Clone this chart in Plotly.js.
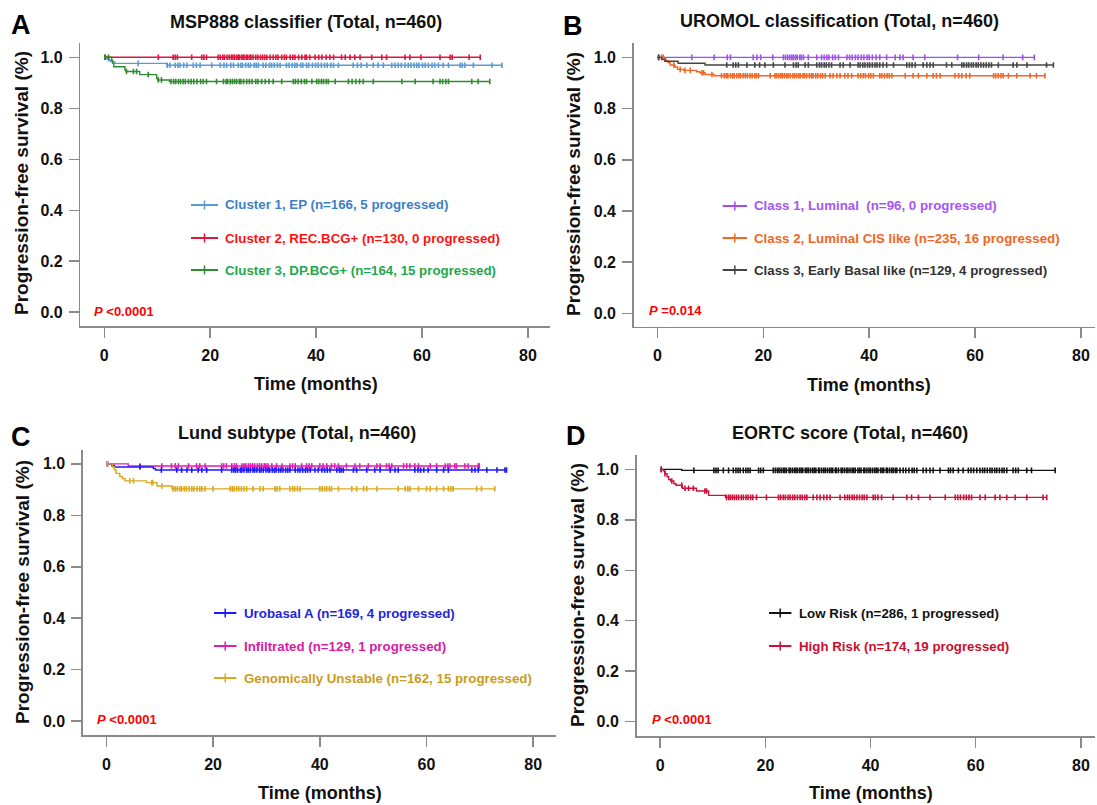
<!DOCTYPE html>
<html><head><meta charset="utf-8">
<script src="https://cdn.plot.ly/plotly-3.0.1.min.js"></script>
<style>html,body{margin:0;padding:0;background:#fff}</style>
</head><body><div id="chart" style="width:1097px;height:805px"></div>
<script>
// ---------- Panel A: MSP888 classifier ----------
const mspEP_evT = [0.5, 0.9, 1.2, 2.0, 11.8];
const mspEP_evS = [0.994, 0.988, 0.982, 0.976, 0.969];
const mspEP_cen = [0.8, 6.4, 11.9, 12.4, 13.4, 13.9, 14.3, 15.0, 15.6, 16.8, 17.4, 18.1, 20.3, 21.9, 22.6, 23.1, 23.9, 24.4, 25.3, 25.8, 26.1, 26.7, 27.2, 27.6, 28.3, 28.7, 29.1, 30.0, 30.5, 31.2, 31.6, 32.1, 32.7, 33.2, 34.4, 34.9, 35.5, 36.0, 36.4, 37.1, 37.5, 38.2, 38.6, 39.3, 39.9, 40.4, 41.0, 41.6, 42.1, 42.8, 43.3, 44.2, 47.0, 47.8, 48.5, 49.6, 50.8, 51.7, 52.7, 54.3, 54.9, 55.5, 56.1, 56.8, 57.4, 57.9, 58.5, 59.0, 59.4, 60.1, 60.6, 61.2, 61.9, 62.4, 63.1, 64.0, 65.0, 67.2, 67.6, 68.1, 69.7, 73.2, 75.1];
const mspREC_evT = [];
const mspREC_evS = [];
const mspREC_cen = [0.2, 10.2, 13.0, 13.4, 13.8, 16.5, 18.4, 18.8, 19.3, 21.5, 21.9, 22.4, 22.7, 23.2, 23.6, 24.0, 24.3, 24.6, 25.0, 25.3, 25.5, 25.9, 26.2, 26.4, 26.8, 27.1, 27.5, 27.7, 28.1, 28.6, 29.0, 29.5, 29.9, 30.3, 30.7, 31.3, 31.9, 32.4, 32.8, 33.5, 34.0, 34.4, 35.1, 35.6, 36.0, 36.7, 37.3, 37.9, 38.2, 38.8, 39.8, 40.5, 41.1, 41.9, 42.6, 43.3, 44.8, 45.5, 46.4, 47.3, 48.3, 50.5, 52.4, 53.3, 56.8, 57.7, 59.8, 63.4, 65.3, 65.7, 68.9, 71.0];
const mspDP_evT = [1.4, 1.6, 1.8, 3.9, 4.1, 6.7, 9.9, 10.1, 12.3];
const mspDP_evS = [0.988, 0.976, 0.963, 0.951, 0.944, 0.932, 0.917, 0.911, 0.905];
const mspDP_cen = [0.1, 0.8, 4.2, 5.5, 6.1, 8.3, 10.2, 10.8, 12.6, 13.1, 13.5, 14.0, 14.4, 14.9, 15.3, 15.9, 16.4, 16.9, 17.5, 18.2, 18.7, 19.3, 21.2, 22.5, 23.0, 23.3, 23.8, 24.2, 24.6, 25.0, 25.5, 25.8, 26.3, 26.9, 27.4, 27.9, 28.6, 29.0, 29.7, 30.4, 31.1, 31.9, 33.5, 35.7, 36.1, 36.6, 37.2, 37.8, 38.2, 39.2, 40.1, 40.5, 41.0, 41.4, 41.9, 42.3, 43.6, 46.1, 46.8, 47.5, 48.2, 48.9, 50.8, 56.2, 58.7, 62.1, 63.4, 63.9, 64.5, 65.0, 69.4, 70.6, 72.8];

// ---------- Panel B: UROMOL classification ----------
const uroLum_evT = [];
const uroLum_evS = [];
const uroLum_cen = [0.3, 6.5, 10.7, 13.2, 13.8, 18.1, 18.8, 19.5, 21.8, 23.8, 24.2, 24.6, 25.0, 25.4, 25.7, 26.1, 26.4, 26.9, 27.2, 27.6, 28.5, 30.1, 31.0, 31.5, 32.0, 32.4, 33.1, 33.6, 34.2, 35.8, 36.3, 36.8, 37.4, 37.9, 38.5, 39.0, 39.6, 40.0, 40.6, 41.3, 42.0, 43.3, 44.9, 45.8, 46.4, 48.3, 50.5, 56.7, 60.7, 65.3, 69.0, 71.2];
const uroCIS_evT = [1.3, 1.6, 2.0, 2.4, 3.3, 3.8, 4.9, 7.4, 8.0, 9.0, 10.7];
const uroCIS_evS = [0.996, 0.987, 0.979, 0.970, 0.962, 0.953, 0.949, 0.944, 0.940, 0.933, 0.928];
const uroCIS_cen = [0.8, 1.1, 3.1, 4.3, 5.2, 6.2, 8.4, 8.7, 10.3, 12.1, 12.6, 13.0, 13.3, 13.8, 14.2, 14.5, 15.0, 15.4, 15.7, 16.2, 16.6, 17.0, 17.5, 17.9, 18.4, 18.7, 19.1, 21.3, 22.2, 22.5, 22.9, 23.3, 23.6, 24.0, 24.4, 24.7, 25.1, 25.6, 25.9, 26.3, 26.7, 27.0, 27.5, 27.8, 28.2, 28.7, 29.1, 29.4, 29.9, 30.3, 30.8, 31.2, 31.7, 32.6, 33.2, 33.9, 34.5, 35.4, 36.0, 36.7, 37.9, 38.4, 38.9, 39.3, 39.9, 40.3, 40.8, 42.0, 42.4, 42.9, 43.4, 43.8, 44.3, 46.8, 48.3, 49.3, 50.9, 52.1, 52.7, 53.4, 56.2, 56.9, 57.5, 58.3, 59.0, 63.5, 63.9, 64.4, 64.9, 65.3, 66.3, 67.9, 70.4, 71.6, 73.2];
const uroEB_evT = [0.8, 1.4, 3.9, 9.0];
const uroEB_evS = [0.992, 0.985, 0.977, 0.970];
const uroEB_cen = [0.2, 13.1, 14.3, 14.8, 15.3, 16.9, 18.4, 19.3, 20.3, 21.9, 24.1, 25.7, 26.2, 26.6, 27.9, 28.5, 30.1, 30.6, 31.0, 31.5, 31.9, 32.4, 32.9, 34.5, 35.1, 36.4, 37.9, 38.3, 38.8, 39.2, 39.7, 40.1, 40.6, 41.1, 41.5, 42.0, 42.6, 43.3, 44.6, 47.1, 47.6, 48.1, 48.7, 50.2, 50.9, 51.5, 52.1, 54.6, 55.6, 57.5, 57.9, 58.4, 58.8, 59.3, 59.7, 60.2, 60.6, 61.1, 61.6, 62.1, 62.6, 63.1, 64.4, 67.2, 67.9, 69.8, 73.5, 74.8];

// ---------- Panel C: Lund subtype ----------
const lundUro_evT = [1.0, 1.5, 8.8, 9.2];
const lundUro_evS = [0.994, 0.988, 0.982, 0.976];
const lundUro_cen = [0.2, 6.3, 10.3, 13.2, 14.1, 15.1, 16.0, 17.2, 17.9, 18.8, 21.6, 23.5, 23.9, 24.2, 24.6, 25.1, 25.4, 25.8, 26.3, 26.6, 27.0, 27.5, 27.8, 28.2, 28.7, 29.0, 29.4, 29.9, 30.3, 30.6, 31.1, 31.5, 31.8, 32.3, 32.7, 33.1, 33.6, 34.0, 34.4, 35.4, 35.9, 36.3, 36.8, 37.3, 37.7, 38.2, 39.1, 39.7, 40.4, 40.9, 41.4, 41.9, 43.2, 43.7, 44.0, 44.4, 46.3, 46.9, 48.8, 50.3, 51.3, 53.2, 54.1, 54.7, 57.8, 58.4, 58.9, 59.5, 60.3, 61.9, 63.2, 64.1, 68.5, 69.1, 69.7, 71.3, 73.2, 74.7, 75.0];
const lundInf_evT = [4.1];
const lundInf_evS = [0.992];
const lundInf_cen = [0.2, 6.3, 10.4, 12.2, 12.9, 13.5, 15.4, 16.9, 17.5, 18.5, 21.6, 22.0, 22.5, 23.5, 24.0, 24.4, 25.4, 25.8, 26.1, 26.6, 27.0, 27.4, 27.8, 28.3, 28.7, 29.1, 29.6, 29.9, 30.3, 31.0, 31.9, 32.9, 34.4, 34.9, 35.4, 36.6, 37.5, 38.0, 38.5, 40.0, 40.6, 41.3, 42.2, 42.8, 43.5, 45.0, 46.6, 47.5, 49.1, 50.7, 51.3, 52.5, 53.0, 53.5, 55.7, 56.3, 56.9, 57.8, 58.5, 60.7, 61.9, 63.5, 64.0, 64.4, 65.3, 65.6, 67.2, 67.8, 69.7, 69.9];
const lundGU_evT = [1.1, 1.5, 1.8, 2.5, 3.0, 3.5, 7.5, 9.5, 12.3];
const lundGU_evS = [0.988, 0.976, 0.963, 0.951, 0.943, 0.934, 0.927, 0.914, 0.903];
const lundGU_cen = [0.2, 4.4, 5.1, 8.5, 8.7, 10.4, 12.5, 12.9, 13.3, 13.8, 14.1, 14.6, 15.0, 15.5, 16.0, 16.4, 17.0, 17.5, 17.9, 18.5, 20.0, 23.2, 23.6, 23.9, 24.4, 24.8, 25.3, 25.8, 26.3, 27.5, 28.8, 29.4, 31.6, 32.0, 32.5, 34.4, 34.9, 35.3, 35.8, 36.3, 40.0, 40.4, 40.9, 41.3, 41.8, 42.2, 43.5, 46.0, 46.9, 48.2, 48.8, 50.7, 54.7, 56.0, 56.5, 56.9, 58.5, 60.0, 60.7, 61.9, 63.2, 64.1, 64.6, 65.0, 69.4, 70.3, 72.8];

// ---------- Panel D: EORTC score ----------
const eoLow_evT = [4.1];
const eoLow_evS = [0.996];
const eoLow_cen = [0.2, 6.4, 10.2, 10.6, 11.0, 12.0, 13.0, 13.9, 14.4, 14.8, 15.2, 15.8, 16.3, 16.7, 17.1, 18.7, 19.1, 19.6, 21.5, 21.9, 22.3, 22.6, 23.0, 23.4, 23.7, 24.0, 24.5, 24.7, 25.1, 25.5, 25.8, 26.1, 26.5, 26.8, 27.1, 27.6, 27.9, 28.2, 28.6, 29.0, 29.3, 29.6, 30.1, 30.3, 30.7, 31.1, 31.4, 31.8, 32.2, 32.5, 32.8, 33.3, 33.5, 33.9, 34.4, 34.6, 35.0, 35.4, 35.7, 36.1, 36.5, 36.8, 37.1, 37.6, 37.9, 38.2, 38.7, 38.9, 39.3, 39.7, 40.0, 40.4, 40.8, 41.1, 41.4, 41.9, 42.2, 42.5, 43.0, 43.2, 43.6, 44.0, 44.3, 44.7, 45.0, 45.6, 46.2, 46.7, 47.3, 47.9, 48.3, 48.8, 50.0, 50.6, 51.3, 51.9, 53.2, 54.8, 55.2, 55.7, 56.7, 57.6, 58.6, 59.1, 59.6, 60.2, 60.8, 61.3, 61.7, 62.2, 62.7, 63.1, 63.6, 64.0, 64.5, 65.0, 65.4, 65.9, 67.1, 67.6, 68.1, 69.7, 70.6, 75.1];
const eoHigh_evT = [0.6, 0.9, 1.3, 1.6, 2.0, 2.6, 3.0, 4.2, 6.9, 9.2, 12.4];
const eoHigh_evS = [0.994, 0.983, 0.971, 0.960, 0.954, 0.943, 0.937, 0.925, 0.914, 0.897, 0.889];
const eoHigh_cen = [0.2, 0.9, 2.2, 4.1, 4.7, 5.4, 6.3, 8.5, 8.8, 12.6, 13.0, 13.3, 13.7, 14.1, 14.5, 14.9, 15.4, 15.8, 16.3, 16.7, 17.2, 17.6, 18.3, 20.2, 22.5, 22.9, 23.4, 23.8, 24.3, 24.7, 25.2, 25.6, 26.1, 26.6, 27.0, 27.5, 27.9, 29.1, 29.8, 30.4, 31.1, 31.7, 32.3, 34.2, 35.1, 35.6, 36.0, 36.5, 36.9, 37.4, 37.9, 38.4, 38.8, 39.3, 40.5, 40.9, 41.4, 42.1, 44.3, 46.9, 47.8, 49.1, 51.3, 54.2, 56.1, 56.6, 57.1, 57.7, 58.2, 58.7, 59.2, 60.8, 61.8, 63.7, 64.6, 65.9, 67.5, 69.7, 72.8, 73.5];

// ---------- Text ----------
const panelTitles = ['MSP888 classifier (Total, n=460)', 'UROMOL classification (Total, n=460)', 'Lund subtype (Total, n=460)', 'EORTC score (Total, n=460)'];
const panelLetters = ['A', 'B', 'C', 'D'];
const pTexts = ['<i>P</i> &lt;0.0001', '<i>P</i> =0.014', '<i>P</i> &lt;0.0001', '<i>P</i> &lt;0.0001'];
const xTicks = [0, 20, 40, 60, 80];
const yTicks = [0, 0.2, 0.4, 0.6, 0.8, 1.0];
const xTitle = 'Time (months)';
const yTitle = 'Progression-free survival (%)';

const series = [
  {p:0, name:'Cluster 1, EP (n=166, 5 progressed)', evT:mspEP_evT, evS:mspEP_evS, cen:mspEP_cen, color:'#5b9bd5', tc:'#3d7fc6'},
  {p:0, name:'Cluster 2, REC.BCG+ (n=130, 0 progressed)', evT:mspREC_evT, evS:mspREC_evS, cen:mspREC_cen, color:'#e0143c', tc:'#ff1010'},
  {p:0, name:'Cluster 3, DP.BCG+ (n=164, 15 progressed)', evT:mspDP_evT, evS:mspDP_evS, cen:mspDP_cen, color:'#2e8b2e', tc:'#1ea84a'},
  {p:1, name:'Class 1, Luminal\u00a0 (n=96, 0 progressed)', evT:uroLum_evT, evS:uroLum_evS, cen:uroLum_cen, color:'#a44cf2', tc:'#a655f5'},
  {p:1, name:'Class 2, Luminal CIS like (n=235, 16 progressed)', evT:uroCIS_evT, evS:uroCIS_evS, cen:uroCIS_cen, color:'#f26522', tc:'#f26522'},
  {p:1, name:'Class 3, Early Basal like (n=129, 4 progressed)', evT:uroEB_evT, evS:uroEB_evS, cen:uroEB_cen, color:'#444444', tc:'#333333'},
  {p:2, name:'Infiltrated (n=129, 1 progressed)', evT:lundInf_evT, evS:lundInf_evS, cen:lundInf_cen, color:'#e01cb4', tc:'#d81ba6', li:1},
  {p:2, name:'Urobasal A (n=169, 4 progressed)', evT:lundUro_evT, evS:lundUro_evS, cen:lundUro_cen, color:'#1a1aff', tc:'#2424e0', li:0},
  {p:2, name:'Genomically Unstable (n=162, 15 progressed)', evT:lundGU_evT, evS:lundGU_evS, cen:lundGU_cen, color:'#d8aa1e', tc:'#c99c1c', li:2},
  {p:3, name:'Low Risk (n=286, 1 progressed)', evT:eoLow_evT, evS:eoLow_evS, cen:eoLow_cen, color:'#111111', tc:'#111111'},
  {p:3, name:'High Risk (n=174, 19 progressed)', evT:eoHigh_evT, evS:eoHigh_evS, cen:eoHigh_cen, color:'#d0103a', tc:'#c8102e'}
];

// ---------- Layout geometry (pixels) ----------
const W = 1097, H = 805;
const px = x => x / W;
const py = y => 1 - y / H;
const panels = [
  {dx:[80.4, 550], dy:[43, 326], xr:[-4.51, 84.17], yr:[-0.054, 1.056], title:[306, 22], letter:[21, 25], ytit:[21, 183], xtit:[316, 384], pv:[92, 311], leg:{x0:191, x1:218, tx:223, ys:[205, 238, 270]}},
  {dx:[633.7, 1095], dy:[43, 326.7], xr:[-4.48, 82.66], yr:[-0.052, 1.056], title:[839, 21], letter:[573, 26], ytit:[574, 184], xtit:[869, 385], pv:[647, 310], leg:{x0:722.7, x1:747, tx:751.6, ys:[206, 238, 270]}},
  {dx:[82.9, 556], dy:[450, 735], xr:[-4.40, 84.27], yr:[-0.054, 1.054], title:[297, 433], letter:[21, 437], ytit:[22, 592], xtit:[320, 793], pv:[95, 719], leg:{x0:214, x1:236.4, tx:241.8, ys:[613, 646, 678]}},
  {dx:[636.5, 1095], dy:[455, 736], xr:[-4.51, 82.68], yr:[-0.057, 1.057], title:[850, 433], letter:[576, 436], ytit:[577, 595], xtit:[871, 793], pv:[650, 719], leg:{x0:769, x1:791.4, tx:797, ys:[613, 646]}}
];

const FONT = 'Liberation Sans, Arial, Helvetica, sans-serif';
const AXC = '#8a8a8a';

function survAt(t, evT, evS) {
  let s = 1;
  for (let i = 0; i < evT.length; i++) if (evT[i] <= t) s = evS[i];
  return s;
}

const traces = [];
const layout = {
  width: W, height: H, margin: {l:0, r:0, t:0, b:0},
  paper_bgcolor: '#fff', plot_bgcolor: '#fff', showlegend: false,
  annotations: [], shapes: []
};

panels.forEach((P, i) => {
  const sfx = i === 0 ? '' : String(i + 1);
  layout['xaxis' + sfx] = {
    domain: [px(P.dx[0]), px(P.dx[1])], range: P.xr, anchor: 'y' + sfx,
    showline: true, linecolor: AXC, linewidth: 1.5, ticks: 'outside', ticklen: 10, tickwidth: 1.5, tickcolor: AXC,
    tickvals: xTicks, showgrid: false, zeroline: false, ticklabelstandoff: 4,
    tickfont: {family: FONT, size: 16, color: '#111', weight: 'bold'}, fixedrange: true
  };
  layout['yaxis' + sfx] = {
    domain: [py(P.dy[1]), py(P.dy[0])], range: P.yr, anchor: 'x' + sfx,
    showline: true, linecolor: AXC, linewidth: 1.5, ticks: 'outside', ticklen: 10, tickwidth: 1.5, tickcolor: AXC,
    tickvals: yTicks, tickformat: '.1f', showgrid: false, zeroline: false, ticklabelstandoff: 3,
    tickfont: {family: FONT, size: 16, color: '#111', weight: 'bold'}, fixedrange: true
  };
  const A = layout.annotations;
  A.push({xref:'paper', yref:'paper', x:px(P.title[0]), y:py(P.title[1]), xanchor:'center', yanchor:'middle', showarrow:false,
    text: panelTitles[i], font:{family:FONT, size:18, color:'#111', weight:'bold'}});
  A.push({xref:'paper', yref:'paper', x:px(P.letter[0]), y:py(P.letter[1]), xanchor:'center', yanchor:'middle', showarrow:false,
    text: panelLetters[i], font:{family:FONT, size:27, color:'#000', weight:'bold'}});
  A.push({xref:'paper', yref:'paper', x:px(P.ytit[0]), y:py(P.ytit[1]), xanchor:'center', yanchor:'middle', showarrow:false, textangle:-90,
    text: yTitle, font:{family:FONT, size:19, color:'#111', weight:'bold'}});
  A.push({xref:'paper', yref:'paper', x:px(P.xtit[0]), y:py(P.xtit[1]), xanchor:'center', yanchor:'middle', showarrow:false,
    text: xTitle, font:{family:FONT, size:18, color:'#111', weight:'bold'}});
  A.push({xref:'paper', yref:'paper', x:px(P.pv[0]), y:py(P.pv[1]), xanchor:'left', yanchor:'middle', showarrow:false,
    text: pTexts[i], font:{family:FONT, size:13, color:'#ff0000', weight:'bold'}});
});

const legCount = [0, 0, 0, 0];
series.forEach(s => {
  const sfx = s.p === 0 ? '' : String(s.p + 1);
  const end = Math.max(s.cen[s.cen.length - 1], s.evT.length ? s.evT[s.evT.length - 1] : 0);
  const lx = [0].concat(s.evT, [end]);
  const ly = [1].concat(s.evS, [s.evS.length ? s.evS[s.evS.length - 1] : 1]);
  traces.push({x: lx, y: ly, xaxis: 'x' + sfx, yaxis: 'y' + sfx, mode: 'lines', line: {color: s.color, width: 1.4, shape: 'hv'}, hoverinfo: 'skip'});
  traces.push({x: s.cen, y: s.cen.map(t => survAt(t, s.evT, s.evS)), xaxis: 'x' + sfx, yaxis: 'y' + sfx, mode: 'markers',
    marker: {symbol: 'line-ns', size: 4, line: {color: s.color, width: 1.6}}, hoverinfo: 'skip'});
  // legend entry
  const P = panels[s.p];
  const li = (s.li !== undefined) ? s.li : legCount[s.p];
  legCount[s.p]++;
  const yy = P.leg.ys[li];
  const xm = (P.leg.x0 + P.leg.x1) / 2;
  layout.shapes.push({type:'line', xref:'paper', yref:'paper', x0:px(P.leg.x0), x1:px(P.leg.x1), y0:py(yy), y1:py(yy), line:{color:s.color, width:2}});
  layout.shapes.push({type:'line', xref:'paper', yref:'paper', x0:px(xm), x1:px(xm), y0:py(yy - 4.5), y1:py(yy + 4.5), line:{color:s.color, width:1.5}});
  layout.annotations.push({xref:'paper', yref:'paper', x:px(P.leg.tx), y:py(yy), xanchor:'left', yanchor:'middle', showarrow:false,
    text: s.name, font:{family:FONT, size:13.3, color:s.tc, weight:'bold'}});
});

Plotly.newPlot('chart', traces, layout, {displayModeBar: false, staticPlot: true});
</script>
</body></html>
